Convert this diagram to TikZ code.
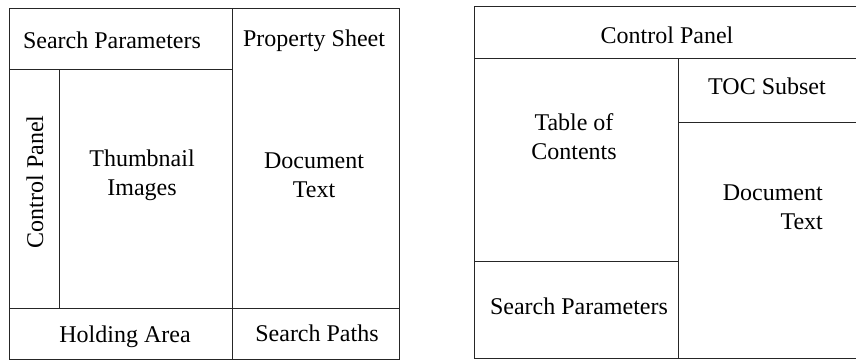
\documentclass[tikz,border=0pt]{standalone}
\usepackage{fontspec}
\setmainfont{Liberation Serif}
\tikzset{
  pane/.style={font=\fontsize{24}{29}\selectfont, inner sep=0pt, align=center},
  frame/.style={line width=1pt, color=black!85}
}

\begin{document}
\begin{tikzpicture}[x=1pt,y=-1pt]
\useasboundingbox (0,0) rectangle (857,361);

%layout with thumbnails (left)
\draw[frame] (9,9) rectangle (399,359);
\draw[frame] (9,70) -- (232,70);
\draw[frame] (232,9) -- (232,359);
\draw[frame] (59,70) -- (59,308);
\draw[frame] (9,308) -- (399,308);

\node[pane, anchor=base] (lsearch) at (112,49) {Search Parameters};
\node[pane, anchor=base] (lprop) at (314,47) {Property Sheet};
\node[pane, anchor=base, rotate=90] (lctrl) at (43,182) {Control Panel};
\node[pane] (lthumb) at (142,175) {Thumbnail\\Images};
\node[pane] (ldoc) at (314,175) {Document\\Text};
\node[pane, anchor=base] (lhold) at (125,342) {Holding Area};
\node[pane, anchor=base] (lpaths) at (317,341) {Search Paths};

%layout with table of contents (right), cut at the right edge
\draw[frame] (856,7) -- (474,7) -- (474,358) -- (856,358);
\draw[frame] (474,59) -- (856,59);
\draw[frame] (678,59) -- (678,358);
\draw[frame] (678,122) -- (856,122);
\draw[frame] (474,261) -- (678,261);

\node[pane, anchor=base] (rctrl) at (667,44) {Control Panel};
\node[pane, anchor=base] (rsubset) at (767,95) {TOC Subset};
\node[pane] (rtoc) at (574,137) {Table of\\Contents};
\node[pane, align=right, anchor=east] (rdoc) at (823,207) {Document\\Text};
\node[pane, anchor=base] (rsearch) at (579,314) {Search Parameters};

\end{tikzpicture}
\end{document}
